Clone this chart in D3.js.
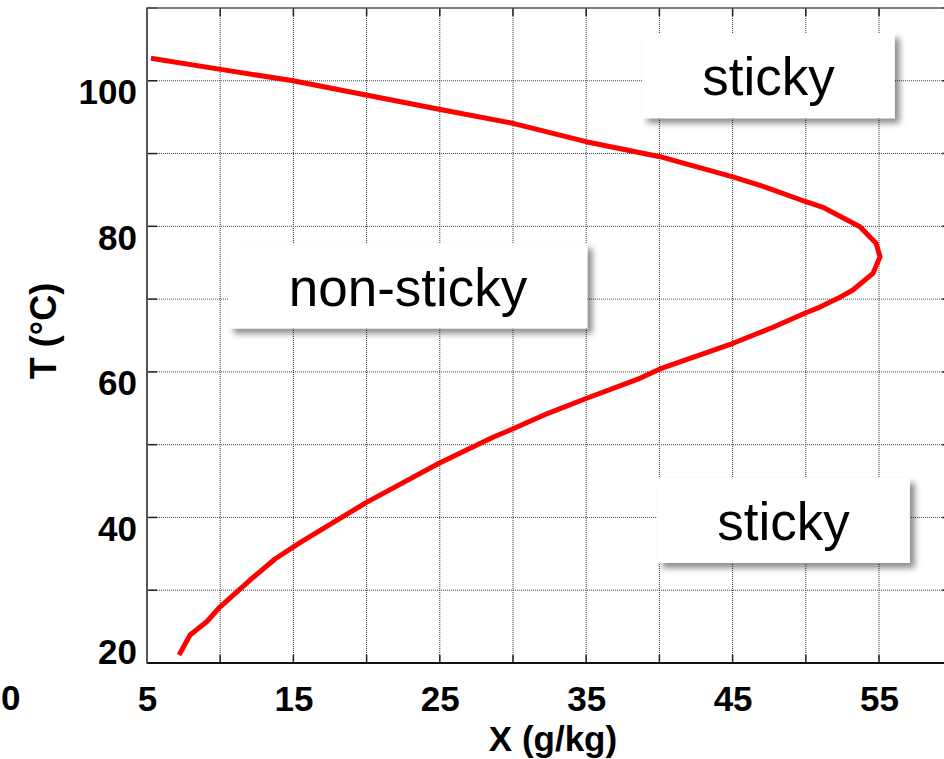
<!DOCTYPE html>
<html>
<head>
<meta charset="utf-8">
<script src="https://cdn.jsdelivr.net/npm/d3@7/dist/d3.min.js"></script>
<style>
  html, body { margin: 0; padding: 0; background: #fff; }
  svg { display: block; font-family: "Liberation Sans", Arial, sans-serif; }
</style>
</head>
<body>
<svg id="chart" width="944" height="759"></svg>
<script>
// Stickiness boundary: moisture content X (g/kg) vs temperature T (°C)
const curveX = [5.27, 9.92, 14.97, 19.96, 24.95, 30.0, 34.99, 40.04, 44.96, 47.28, 50.01, 51.23,
  53.70, 54.80, 55.07, 54.59, 53.22, 52.20, 50.93, 50.01, 47.76, 45.03, 40.04, 38.67, 34.99,
  32.39, 29.93, 28.63, 24.95, 19.96, 15.45, 13.74, 12.04, 9.92, 9.08, 7.94, 7.19];
const curveT = [103.1, 101.6, 100.0, 98.04, 96.08, 94.15, 91.63, 89.57, 86.82, 85.36, 83.38, 82.56,
  79.95, 77.67, 75.83, 73.54, 71.25, 70.11, 68.87, 68.13, 66.13, 63.93, 60.40, 59.12, 56.34,
  54.31, 52.11, 51.01, 47.44, 42.03, 36.53, 34.29, 31.40, 27.56, 25.67, 23.85, 21.10];

const xTickLabels = [5, 15, 25, 35, 45, 55];
const yTickLabels = [20, 40, 60, 80, 100];
const xGrid = [10, 15, 20, 25, 30, 35, 40, 45, 50, 55];
const yGrid = [30, 40, 50, 60, 70, 80, 90, 100];

// Region annotations: text and centre in data units
const regionText = ["sticky", "non-sticky", "sticky"];
const regionX = [47.45, 22.83, 48.48];
const regionT = [100.7, 71.8, 39.58];

const svg = d3.select("#chart");
const x = d3.scaleLinear().domain([5, 60]).range([147, 147 + 55 * 14.64]);
const y = d3.scaleLinear().domain([20, 110]).range([663, 8]);
const [x0, x1] = x.range();
const [y0, y1] = y.range();

const defs = svg.append("defs");
const shadow = defs.append("filter").attr("id", "shadow")
  .attr("x", "-10%").attr("y", "-20%").attr("width", "130%").attr("height", "150%");
shadow.append("feDropShadow").attr("dx", 5).attr("dy", 5).attr("stdDeviation", 3)
  .attr("flood-color", "#000").attr("flood-opacity", 0.45);

// grid
const grid = svg.append("g");
grid.selectAll(".vg").data(xGrid).join("line")
  .attr("x1", d => x(d)).attr("x2", d => x(d)).attr("y1", y1).attr("y2", y0)
  .attr("stroke", "#333").attr("stroke-width", 1).attr("stroke-dasharray", "1,1");
grid.selectAll(".hg").data(yGrid).join("line")
  .attr("x1", x0).attr("x2", x1).attr("y1", d => y(d)).attr("y2", d => y(d))
  .attr("stroke", "#444").attr("stroke-width", 1).attr("stroke-dasharray", "1,1");

// inner tick marks on all four sides
const ticks = svg.append("g").attr("stroke", "#222").attr("stroke-width", 1.5);
yGrid.concat([110]).forEach(v => {
  ticks.append("line").attr("x1", x0).attr("x2", x0 + 10).attr("y1", y(v)).attr("y2", y(v));
  ticks.append("line").attr("x1", x1 - 10).attr("x2", x1).attr("y1", y(v)).attr("y2", y(v));
});
xGrid.forEach(v => {
  ticks.append("line").attr("x1", x(v)).attr("x2", x(v)).attr("y1", y0).attr("y2", y0 - 8);
  ticks.append("line").attr("x1", x(v)).attr("x2", x(v)).attr("y1", y1).attr("y2", y1 + 8);
});

// frame
svg.append("rect").attr("x", x0).attr("y", y1).attr("width", x1 - x0).attr("height", y0 - y1)
  .attr("fill", "none").attr("stroke", "#555").attr("stroke-width", 1.5);
svg.append("line").attr("x1", x0).attr("x2", x1).attr("y1", y0).attr("y2", y0)
  .attr("stroke", "#111").attr("stroke-width", 2);
svg.append("line").attr("x1", x0).attr("x2", x0).attr("y1", y1).attr("y2", y0)
  .attr("stroke", "#555").attr("stroke-width", 2);

// curve
const pts = curveX.map((v, i) => [v, curveT[i]]);
svg.append("path").datum(pts)
  .attr("d", d3.line().x(d => x(d[0])).y(d => y(d[1])))
  .attr("fill", "none").attr("stroke", "#ff0000").attr("stroke-width", 5)
  .attr("stroke-linejoin", "round");

// region labels with shadowed boxes
regionText.forEach((t, i) => {
  const cx = x(regionX[i]), cy = y(regionT[i]);
  const g = svg.append("g");
  const txt = g.append("text").attr("x", cx).attr("y", cy + 19.5)
    .attr("text-anchor", "middle").attr("font-size", 53).attr("fill", "#000").text(t);
  const w = txt.node().getComputedTextLength() + 120;
  g.insert("rect", "text").attr("x", cx - w / 2).attr("y", cy - 42.5)
    .attr("width", w).attr("height", 85).attr("fill", "#fff").attr("filter", "url(#shadow)");
});

// x axis labels
const xAxis = svg.append("g").attr("transform", `translate(0,${y0})`)
  .call(d3.axisBottom(x).tickValues(xTickLabels).tickSize(0).tickPadding(23));
xAxis.select(".domain").remove();
xAxis.selectAll("text").attr("font-size", 35).attr("font-weight", "bold")
  .attr("fill", "#000").attr("font-family", "Liberation Sans, Arial, sans-serif");

// y axis labels
const yAxis = svg.append("g").attr("transform", `translate(${x0},0)`)
  .call(d3.axisLeft(y).tickValues(yTickLabels).tickSize(0).tickPadding(10));
yAxis.select(".domain").remove();
yAxis.selectAll(".tick").attr("transform", d => `translate(0,${Math.min(y(d) + 12, 653)})`);
yAxis.selectAll("text").attr("font-size", 35).attr("font-weight", "bold")
  .attr("fill", "#000").attr("font-family", "Liberation Sans, Arial, sans-serif");

// neighbouring axis label at the left edge
svg.append("text").attr("x", 1).attr("y", 710).attr("text-anchor", "start")
  .attr("font-size", 35).attr("font-weight", "bold").text("0");

// axis titles
svg.append("text").attr("x", 553).attr("y", 751).attr("text-anchor", "middle")
  .attr("font-size", 35).attr("font-weight", "bold").text("X (g/kg)");
svg.append("text").attr("transform", "translate(56,331) rotate(-90)")
  .attr("text-anchor", "middle").attr("font-size", 36).attr("font-weight", "bold").text("T (°C)");
</script>
</body>
</html>
